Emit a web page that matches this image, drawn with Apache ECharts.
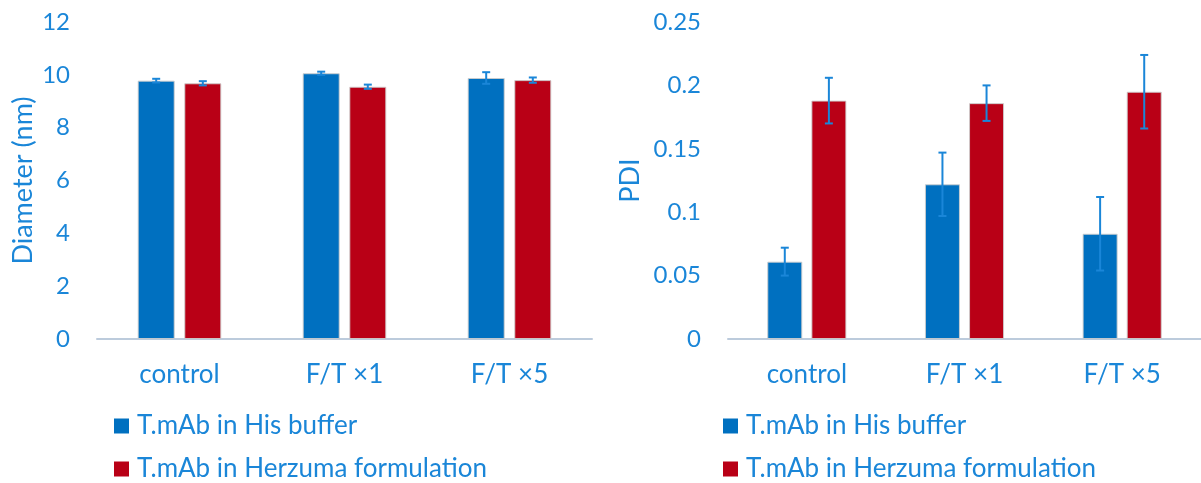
<!DOCTYPE html>
<html>
<head>
<meta charset="utf-8">
<script src="https://cdn.jsdelivr.net/npm/echarts@6/dist/echarts.min.js"></script>
<style>
  html, body { margin: 0; padding: 0; background: #ffffff; }
  #chart { width: 1201px; height: 483px; }
</style>
</head>
<body>
<div id="chart"></div>
<script>
// Sample conditions
var categories = ['control', 'F/T \u00d71', 'F/T \u00d75'];
var seriesNames = ['T.mAb in His buffer', 'T.mAb in Herzuma formulation'];

// Hydrodynamic diameter (nm), mean and standard deviation
var diameterHis = [9.78, 10.06, 9.88];
var diameterHisErr = [0.07, 0.06, 0.22];
var diameterHerzuma = [9.68, 9.55, 9.80];
var diameterHerzumaErr = [0.08, 0.08, 0.10];

// Polydispersity index, mean and standard deviation
var pdiHis = [0.061, 0.122, 0.083];
var pdiHisErr = [0.011, 0.025, 0.029];
var pdiHerzuma = [0.188, 0.186, 0.195];
var pdiHerzumaErr = [0.018, 0.014, 0.029];

// Axis tick settings
var diameterTicks = { min: 0, max: 12, interval: 2 };
var pdiTicks = { min: 0, max: 0.25, interval: 0.05 };

var TEXT = '#1a86d8';
var BLUE = '#0070c0';
var RED = '#b90016';
var FONT = 'Lato';

var chart = echarts.init(document.getElementById('chart'), null, { renderer: 'canvas' });

function errorData(values, errs) {
  return values.map(function (v, i) { return [i, v, errs[i]]; });
}

// Error bar drawn around the bar centre; shift is the bar's offset in its group
function errorSeries(name, gridIdx, values, errs, shift) {
  return {
    type: 'custom',
    name: name,
    xAxisIndex: gridIdx,
    yAxisIndex: gridIdx,
    z: 10,
    silent: true,
    data: errorData(values, errs),
    renderItem: function (params, api) {
      var idx = api.value(0), v = api.value(1), e = api.value(2);
      var hi = api.coord([idx, v + e]);
      var lo = api.coord([idx, v - e]);
      var x = hi[0] + shift;
      var cap = 4;
      var st = { stroke: TEXT, lineWidth: 2 };
      return {
        type: 'group',
        children: [
          { type: 'line', shape: { x1: x, y1: hi[1], x2: x, y2: lo[1] }, style: st },
          { type: 'line', shape: { x1: x - cap, y1: hi[1], x2: x + cap, y2: hi[1] }, style: st },
          { type: 'line', shape: { x1: x - cap, y1: lo[1], x2: x + cap, y2: lo[1] }, style: st }
        ]
      };
    }
  };
}

function barSeries(name, gridIdx, values, color, width) {
  return {
    type: 'bar',
    name: name,
    xAxisIndex: gridIdx,
    yAxisIndex: gridIdx,
    data: values,
    barWidth: width,
    barGap: '26%',
    itemStyle: { color: color, borderColor: 'rgba(205,205,205,0.9)', borderWidth: 1 }
  };
}

function xAxis(gridIdx) {
  return {
    type: 'category',
    gridIndex: gridIdx,
    data: categories,
    axisLine: { show: true, lineStyle: { color: '#bccbdc', width: 2 } },
    axisTick: { show: false },
    axisLabel: { color: TEXT, fontFamily: FONT, fontSize: 26, margin: 23 }
  };
}

function yAxis(gridIdx, ticks, name, nameGap, fmt) {
  return {
    type: 'value',
    gridIndex: gridIdx,
    min: ticks.min,
    max: ticks.max,
    interval: ticks.interval,
    name: name,
    nameLocation: 'middle',
    nameRotate: 90,
    nameGap: nameGap,
    nameTextStyle: { color: TEXT, fontFamily: FONT, fontSize: 27 },
    axisLine: { show: false },
    axisTick: { show: false },
    splitLine: { show: false },
    axisLabel: { color: TEXT, fontFamily: FONT, fontSize: 24, margin: 27, formatter: fmt }
  };
}

// One legend entry per box, so each chart gets its own two-row key
function legendItem(name, left, top) {
  return {
    orient: 'horizontal',
    left: left,
    top: top,
    padding: 0,
    data: [name],
    icon: 'rect',
    itemWidth: 15,
    itemHeight: 15,
    itemStyle: { borderWidth: 0 },
    selectedMode: false,
    textStyle: { color: TEXT, fontFamily: FONT, fontSize: 26, lineHeight: 26, padding: [0, 0, 0, 3] }
  };
}

var lw = 37, rw = 35;
var lShift = (lw + lw * 0.26) / 2;
var rShift = (rw + rw * 0.26) / 2;

chart.setOption({
  animation: false,
  backgroundColor: '#ffffff',
  textStyle: { fontFamily: FONT },
  grid: [
    { left: 97, right: 609, top: 22, bottom: 144 },
    { left: 728, right: 0, top: 22, bottom: 144 }
  ],
  xAxis: [xAxis(0), xAxis(1)],
  yAxis: [
    yAxis(0, diameterTicks, 'Diameter (nm)', 60, function (v) { return String(v); }),
    yAxis(1, pdiTicks, 'PDI', 84, function (v) { return String(+v.toFixed(2)); })
  ],
  legend: [
    legendItem(seriesNames[0], 114, 413),
    legendItem(seriesNames[1], 114, 456),
    legendItem(seriesNames[0], 723, 413),
    legendItem(seriesNames[1], 723, 456)
  ],
  series: [
    barSeries(seriesNames[0], 0, diameterHis, BLUE, lw),
    barSeries(seriesNames[1], 0, diameterHerzuma, RED, lw),
    barSeries(seriesNames[0], 1, pdiHis, BLUE, rw),
    barSeries(seriesNames[1], 1, pdiHerzuma, RED, rw),
    errorSeries('err-d-his', 0, diameterHis, diameterHisErr, -lShift),
    errorSeries('err-d-herz', 0, diameterHerzuma, diameterHerzumaErr, lShift),
    errorSeries('err-p-his', 1, pdiHis, pdiHisErr, -rShift),
    errorSeries('err-p-herz', 1, pdiHerzuma, pdiHerzumaErr, rShift)
  ]
});
</script>
</body>
</html>
